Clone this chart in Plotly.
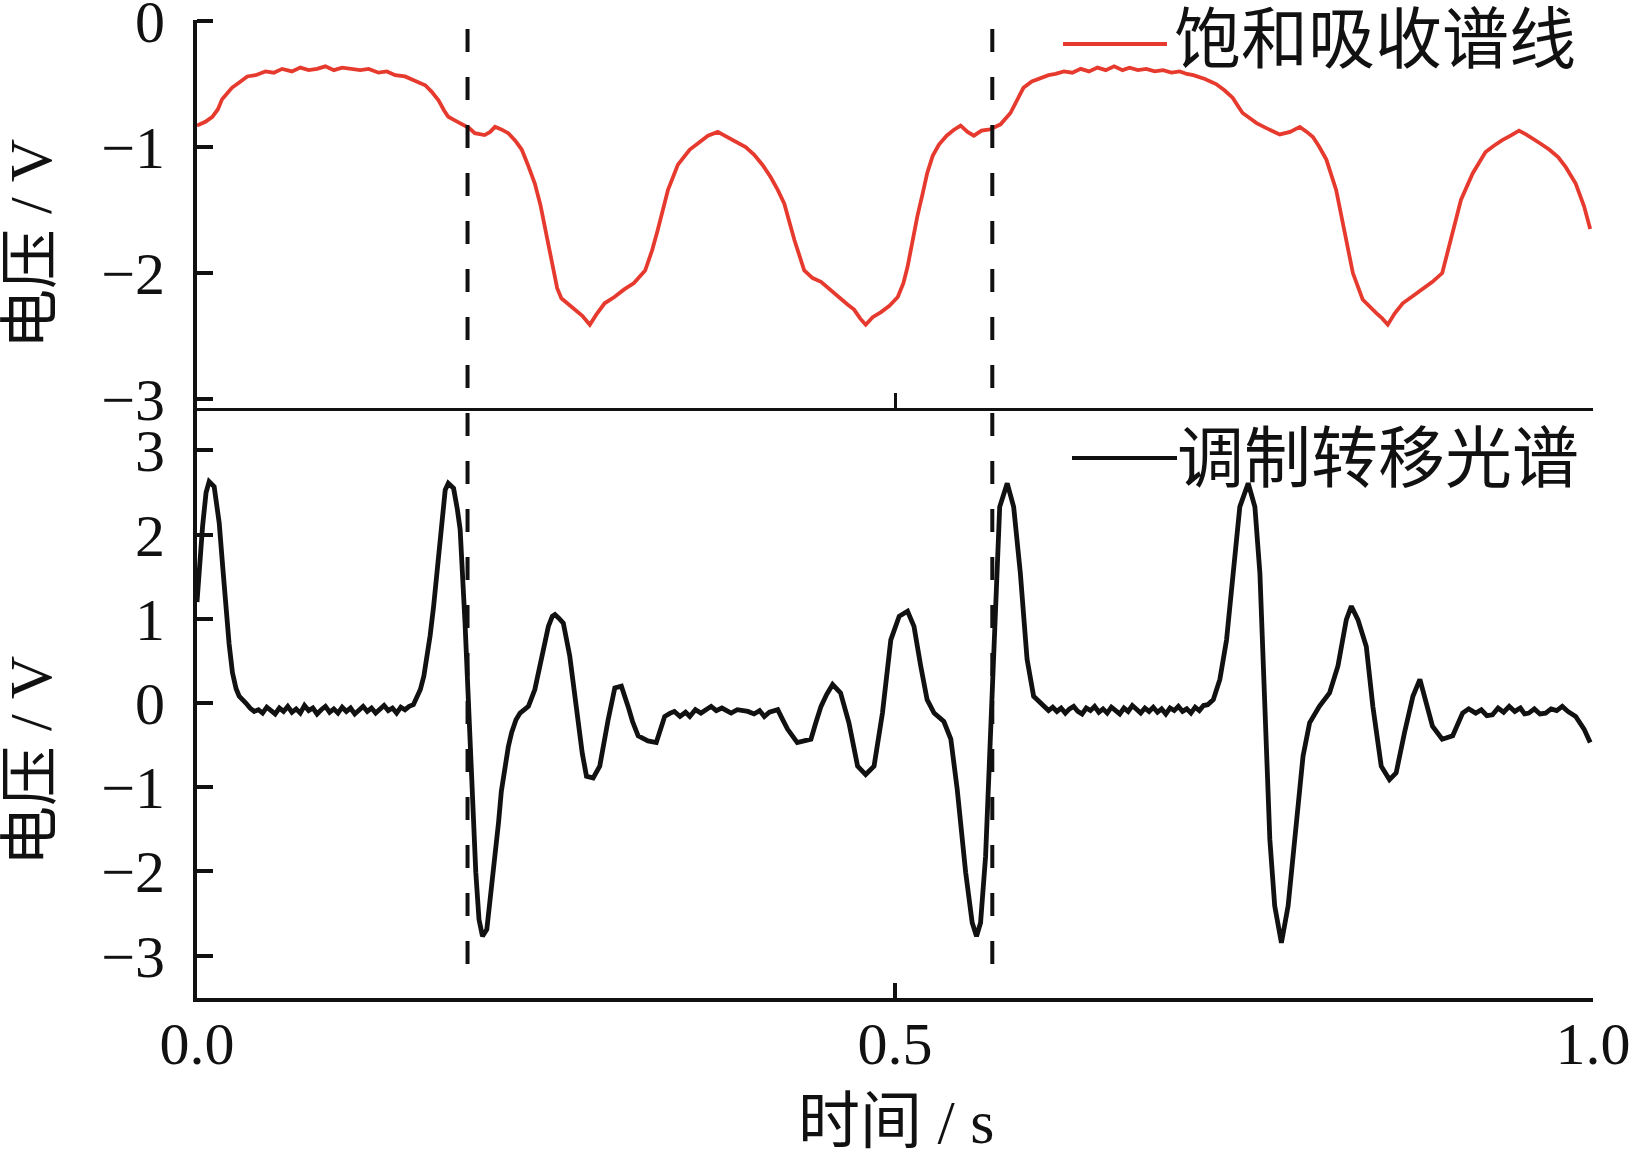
import plotly.graph_objects as go

# ---------------- data ----------------
sat_points = [
    (0.000, -0.83), (0.006, -0.80), (0.011, -0.76), (0.015, -0.70), (0.018, -0.62),
    (0.022, -0.57), (0.025, -0.53), (0.030, -0.49), (0.036, -0.44), (0.042, -0.43),
    (0.049, -0.40), (0.055, -0.41), (0.061, -0.38), (0.068, -0.40), (0.074, -0.37),
    (0.080, -0.39), (0.086, -0.38), (0.092, -0.36), (0.098, -0.39), (0.104, -0.37),
    (0.111, -0.38), (0.117, -0.39), (0.123, -0.38), (0.130, -0.41), (0.136, -0.40),
    (0.142, -0.43), (0.149, -0.44), (0.156, -0.47), (0.1635, -0.51), (0.168, -0.56),
    (0.173, -0.63), (0.177, -0.71), (0.180, -0.76), (0.185, -0.79), (0.190, -0.82),
    (0.195, -0.85), (0.199, -0.89), (0.203, -0.90), (0.206, -0.905), (0.210, -0.88),
    (0.2135, -0.84), (0.218, -0.86), (0.223, -0.89), (0.228, -0.95), (0.2326, -1.02),
    (0.237, -1.14), (0.242, -1.29), (0.246, -1.46), (0.249, -1.63), (0.252, -1.80),
    (0.255, -1.98), (0.258, -2.12), (0.261, -2.20), (0.266, -2.25), (0.271, -2.29),
    (0.276, -2.34), (0.2814, -2.41), (0.286, -2.33), (0.292, -2.24), (0.299, -2.19),
    (0.306, -2.13), (0.313, -2.08), (0.321, -1.98), (0.326, -1.82), (0.330, -1.66),
    (0.334, -1.50), (0.3374, -1.34), (0.3445, -1.14), (0.353, -1.02), (0.359, -0.97),
    (0.366, -0.91), (0.373, -0.88), (0.380, -0.92), (0.387, -0.96), (0.393, -1.00),
    (0.399, -1.06), (0.405, -1.14), (0.411, -1.24), (0.416, -1.34), (0.4207, -1.45),
    (0.428, -1.74), (0.435, -1.98), (0.441, -2.04), (0.447, -2.07), (0.454, -2.14),
    (0.461, -2.21), (0.466, -2.25), (0.4707, -2.29), (0.475, -2.36), (0.479, -2.41),
    (0.484, -2.35), (0.490, -2.31), (0.496, -2.26), (0.502, -2.19), (0.506, -2.08),
    (0.509, -1.95), (0.512, -1.76), (0.516, -1.55), (0.520, -1.36), (0.523, -1.21),
    (0.527, -1.07), (0.5315, -0.98), (0.537, -0.91), (0.542, -0.865), (0.547, -0.83),
    (0.552, -0.88), (0.5565, -0.91), (0.562, -0.87), (0.568, -0.86), (0.5756, -0.82),
    (0.5827, -0.73), (0.587, -0.63), (0.592, -0.53), (0.598, -0.48), (0.604, -0.455),
    (0.610, -0.43), (0.615, -0.42), (0.621, -0.40), (0.627, -0.41), (0.633, -0.38),
    (0.639, -0.40), (0.645, -0.37), (0.651, -0.39), (0.657, -0.36), (0.663, -0.39),
    (0.668, -0.37), (0.674, -0.39), (0.680, -0.38), (0.686, -0.40), (0.692, -0.39),
    (0.698, -0.41), (0.704, -0.40), (0.709, -0.42), (0.7137, -0.43), (0.722, -0.46),
    (0.730, -0.50), (0.736, -0.55), (0.742, -0.61), (0.746, -0.68), (0.749, -0.73),
    (0.754, -0.77), (0.759, -0.81), (0.766, -0.85), (0.771, -0.88), (0.7756, -0.90),
    (0.783, -0.88), (0.790, -0.84), (0.795, -0.88), (0.7994, -0.92), (0.804, -1.00),
    (0.809, -1.10), (0.816, -1.34), (0.822, -1.66), (0.828, -2.00), (0.835, -2.21),
    (0.840, -2.27), (0.845, -2.32), (0.849, -2.36), (0.853, -2.41), (0.858, -2.32),
    (0.8637, -2.24), (0.870, -2.19), (0.878, -2.13), (0.885, -2.07), (0.892, -2.00),
    (0.898, -1.74), (0.9054, -1.42), (0.9138, -1.21), (0.923, -1.04), (0.929, -0.99),
    (0.935, -0.945), (0.941, -0.91), (0.947, -0.87), (0.952, -0.90), (0.9566, -0.93),
    (0.962, -0.97), (0.9686, -1.02), (0.975, -1.08), (0.9805, -1.16), (0.9876, -1.29),
    (0.9936, -1.47), (0.998, -1.65),
]

mts_points = [
    (0.000, 1.20), (0.0016, 1.60), (0.004, 2.10), (0.0065, 2.50), (0.0087, 2.63),
    (0.0123, 2.57), (0.0159, 2.14), (0.0185, 1.60), (0.0206, 1.15), (0.0230, 0.70),
    (0.0254, 0.36), (0.0280, 0.17), (0.0302, 0.08), (0.033, 0.02), (0.035, 0.00),
    (0.038, -0.06), (0.041, -0.10), (0.044, -0.08), (0.047, -0.12), (0.050, -0.05),
    (0.053, -0.09), (0.056, -0.13), (0.059, -0.06), (0.062, -0.10), (0.065, -0.04),
    (0.068, -0.11), (0.071, -0.07), (0.074, -0.12), (0.077, -0.03), (0.080, -0.09),
    (0.083, -0.06), (0.086, -0.13), (0.089, -0.08), (0.092, -0.04), (0.095, -0.11),
    (0.098, -0.07), (0.101, -0.12), (0.104, -0.05), (0.107, -0.10), (0.110, -0.06),
    (0.113, -0.13), (0.116, -0.08), (0.119, -0.04), (0.122, -0.10), (0.125, -0.06),
    (0.128, -0.12), (0.131, -0.07), (0.134, -0.03), (0.137, -0.09), (0.140, -0.06),
    (0.143, -0.12), (0.146, -0.05), (0.149, -0.08), (0.152, -0.04), (0.155, -0.02),
    (0.158, 0.08), (0.160, 0.16), (0.1625, 0.32), (0.1647, 0.52), (0.167, 0.80),
    (0.1695, 1.15), (0.172, 1.55), (0.174, 1.94), (0.176, 2.30), (0.1778, 2.53),
    (0.180, 2.61), (0.1838, 2.55), (0.1865, 2.30), (0.1885, 2.06), (0.192, 0.95),
    (0.1945, -0.04), (0.1969, -1.03), (0.1997, -2.01), (0.202, -2.57), (0.2045, -2.77),
    (0.2076, -2.69), (0.211, -2.21), (0.2135, -1.80), (0.216, -1.42), (0.218, -1.05),
    (0.2207, -0.75), (0.2230, -0.52), (0.2254, -0.35), (0.2285, -0.20), (0.2314, -0.12),
    (0.2374, -0.04), (0.242, 0.16), (0.247, 0.52), (0.2517, 0.91), (0.2545, 1.03),
    (0.2564, 1.05), (0.259, 1.01), (0.2624, 0.95), (0.267, 0.56), (0.270, 0.15),
    (0.273, -0.235), (0.276, -0.60), (0.279, -0.87), (0.2838, -0.89), (0.2885, -0.75),
    (0.2915, -0.45), (0.2945, -0.20), (0.2993, 0.18), (0.304, 0.20), (0.3088, -0.04),
    (0.312, -0.22), (0.316, -0.39), (0.323, -0.45), (0.329, -0.47), (0.332, -0.30),
    (0.335, -0.16), (0.339, -0.12), (0.342, -0.10), (0.346, -0.16), (0.350, -0.11),
    (0.353, -0.16), (0.357, -0.08), (0.361, -0.12), (0.3683, -0.04), (0.372, -0.09),
    (0.376, -0.06), (0.3826, -0.12), (0.387, -0.08), (0.3946, -0.10), (0.399, -0.13),
    (0.403, -0.09), (0.4064, -0.16), (0.410, -0.11), (0.416, -0.08), (0.419, -0.18),
    (0.423, -0.31), (0.430, -0.47), (0.435, -0.45), (0.4398, -0.43), (0.443, -0.25),
    (0.447, -0.04), (0.451, 0.10), (0.4553, 0.22), (0.461, 0.12), (0.464, -0.05),
    (0.467, -0.235), (0.4732, -0.75), (0.479, -0.85), (0.485, -0.75), (0.488, -0.45),
    (0.491, -0.12), (0.497, 0.75), (0.503, 1.03), (0.509, 1.09), (0.5136, 0.91),
    (0.5184, 0.44), (0.523, 0.04), (0.528, -0.12), (0.535, -0.22), (0.540, -0.43),
    (0.5446, -1.03), (0.5506, -2.01), (0.5553, -2.61), (0.5584, -2.77), (0.5613, -2.61),
    (0.5649, -1.82), (0.5684, -0.43), (0.572, 1.15), (0.575, 2.33), (0.5804, 2.61),
    (0.585, 2.33), (0.5898, 1.54), (0.5946, 0.52), (0.5993, 0.08), (0.6065, -0.04),
    (0.610, -0.09), (0.613, -0.05), (0.616, -0.10), (0.619, -0.06), (0.622, -0.12),
    (0.625, -0.07), (0.628, -0.04), (0.631, -0.10), (0.634, -0.13), (0.637, -0.06),
    (0.640, -0.09), (0.643, -0.04), (0.646, -0.11), (0.649, -0.07), (0.652, -0.12),
    (0.655, -0.05), (0.658, -0.09), (0.661, -0.13), (0.664, -0.06), (0.667, -0.10),
    (0.670, -0.03), (0.673, -0.08), (0.676, -0.12), (0.679, -0.06), (0.682, -0.10),
    (0.685, -0.05), (0.688, -0.11), (0.691, -0.07), (0.694, -0.13), (0.697, -0.06),
    (0.700, -0.09), (0.703, -0.04), (0.706, -0.10), (0.709, -0.07), (0.712, -0.12),
    (0.715, -0.05), (0.718, -0.09), (0.721, -0.03), (0.724, -0.02), (0.728, 0.04),
    (0.7327, 0.28), (0.7375, 0.75), (0.742, 1.54), (0.747, 2.33), (0.753, 2.61),
    (0.7578, 2.33), (0.7614, 1.54), (0.765, -0.04), (0.7685, -1.62), (0.772, -2.41),
    (0.7768, -2.85), (0.7816, -2.41), (0.7876, -1.42), (0.7923, -0.63), (0.797, -0.235),
    (0.804, -0.04), (0.8113, 0.12), (0.8173, 0.44), (0.8233, 0.99), (0.8269, 1.15),
    (0.8316, 0.99), (0.8376, 0.67), (0.8423, -0.04), (0.8483, -0.75), (0.8542, -0.91),
    (0.859, -0.83), (0.865, -0.35), (0.871, 0.08), (0.876, 0.28), (0.880, 0.04),
    (0.885, -0.275), (0.892, -0.43), (0.8995, -0.39), (0.9066, -0.12), (0.911, -0.07),
    (0.916, -0.12), (0.920, -0.08), (0.924, -0.15), (0.928, -0.14), (0.932, -0.06),
    (0.936, -0.11), (0.940, -0.04), (0.944, -0.10), (0.948, -0.06), (0.951, -0.13),
    (0.954, -0.12), (0.958, -0.07), (0.962, -0.13), (0.966, -0.12), (0.970, -0.07),
    (0.974, -0.09), (0.978, -0.04), (0.982, -0.10), (0.9876, -0.16), (0.9936, -0.31),
    (0.998, -0.47),
]

marker_times = [0.1938, 0.5697]          # dashed reference lines (s)

x_tickvals = [0.0, 0.5, 1.0]
x_ticktext = ["0.0", "0.5", "1.0"]
top_y_tickvals = [0, -1, -2, -3]
bottom_y_tickvals = [3, 2, 1, 0, -1, -2, -3]

sat_label = "饱和吸收谱线"
mts_label = "调制转移光谱"
y_title = "电压 / V"
x_title = "时间 / s"

sat_t = [p[0] for p in sat_points]
sat_v = [p[1] for p in sat_points]
mts_t = [p[0] for p in mts_points]
mts_v = [p[1] for p in mts_points]

# ---------------- layout geometry ----------------
W, H = 1633, 1152
L, R, T, B = 197, 40, 20, 154
plot_h = H - T - B
divider_px = 408
split = (H - B - divider_px) / plot_h


def px_x(px):
    return (px - L) / (W - L - R)


def px_y(py):
    return (H - B - py) / plot_h


RED = "#e63a2e"
BLACK = "#111111"
SERIF = "Liberation Serif, Times New Roman, serif"
MIXED = "Liberation Serif, Noto Sans CJK SC, serif"
CJK = "Noto Sans CJK SC, sans-serif"

fig = go.Figure()
fig.add_trace(go.Scatter(x=sat_t, y=sat_v, mode="lines", xaxis="x", yaxis="y",
                         line=dict(color=RED, width=3.8), showlegend=False,
                         hoverinfo="skip"))
fig.add_trace(go.Scatter(x=mts_t, y=mts_v, mode="lines", xaxis="x2", yaxis="y2",
                         line=dict(color=BLACK, width=4.8), showlegend=False,
                         hoverinfo="skip"))

axis_common = dict(showgrid=False, zeroline=False, showline=True, linecolor=BLACK,
                   ticks="inside", tickcolor=BLACK, ticklabeloverflow="allow",
                   automargin=False,
                   tickfont=dict(family=SERIF, size=60, color=BLACK))

fig.update_layout(
    width=W, height=H,
    margin=dict(l=L, r=R, t=T, b=B, pad=0, autoexpand=False),
    paper_bgcolor="white", plot_bgcolor="white",
    showlegend=False,
    xaxis=dict(axis_common, domain=[0, 1], anchor="y", range=[0, 1],
               tickvals=[0.5, 1.0], showticklabels=False, ticklen=15, tickwidth=3,
               linewidth=3),
    yaxis=dict(axis_common, domain=[split, 1], anchor="x", range=[-3.071, 0.008],
               tickvals=top_y_tickvals, ticklen=16, tickwidth=4, linewidth=4,
               ticklabelstandoff=16),
    xaxis2=dict(axis_common, domain=[0, 1], anchor="y2", range=[0, 1],
                tickvals=x_tickvals, ticktext=x_ticktext, ticklen=15, tickwidth=4,
                linewidth=4, ticklabelstandoff=-10),
    yaxis2=dict(axis_common, domain=[0, split], anchor="x2", range=[-3.504, 3.504],
                tickvals=bottom_y_tickvals, ticklen=16, tickwidth=4, linewidth=4,
                ticklabelstandoff=16),
)

shapes = []
for t in marker_times:
    shapes.append(dict(type="line", xref="x", yref="paper", x0=t, x1=t,
                       y0=px_y(29), y1=px_y(971),
                       line=dict(color=BLACK, width=4, dash="23px,25px")))
# legend samples
shapes.append(dict(type="line", xref="paper", yref="paper",
                   x0=px_x(1063), x1=px_x(1167), y0=px_y(44), y1=px_y(44),
                   line=dict(color=RED, width=4)))
shapes.append(dict(type="line", xref="paper", yref="paper",
                   x0=px_x(1072), x1=px_x(1177), y0=px_y(458), y1=px_y(458),
                   line=dict(color=BLACK, width=4)))
fig.update_layout(shapes=shapes)

annotations = [
    dict(text=sat_label, xref="paper", yref="paper", x=px_x(1172), y=px_y(34),
         xanchor="left", yanchor="middle", showarrow=False,
         font=dict(family=CJK, size=67, color=BLACK)),
    dict(text=mts_label, xref="paper", yref="paper", x=px_x(1175), y=px_y(452),
         xanchor="left", yanchor="middle", showarrow=False,
         font=dict(family=CJK, size=67, color=BLACK)),
    dict(text=y_title, xref="paper", yref="paper", x=px_x(31), y=px_y(244),
         xanchor="center", yanchor="middle", textangle=-90, showarrow=False,
         font=dict(family=MIXED, size=60, color=BLACK)),
    dict(text=y_title, xref="paper", yref="paper", x=px_x(31), y=px_y(761),
         xanchor="center", yanchor="middle", textangle=-90, showarrow=False,
         font=dict(family=MIXED, size=60, color=BLACK)),
    dict(text=x_title, xref="paper", yref="paper", x=px_x(896), y=px_y(1122),
         xanchor="center", yanchor="middle", showarrow=False,
         font=dict(family=MIXED, size=62, color=BLACK)),
]
fig.update_layout(annotations=annotations)

fig.write_html(
    "out.html",
    config={"displayModeBar": False, "staticPlot": True},
    post_script="document.body.style.margin='0';document.body.style.overflow='hidden';",
)
